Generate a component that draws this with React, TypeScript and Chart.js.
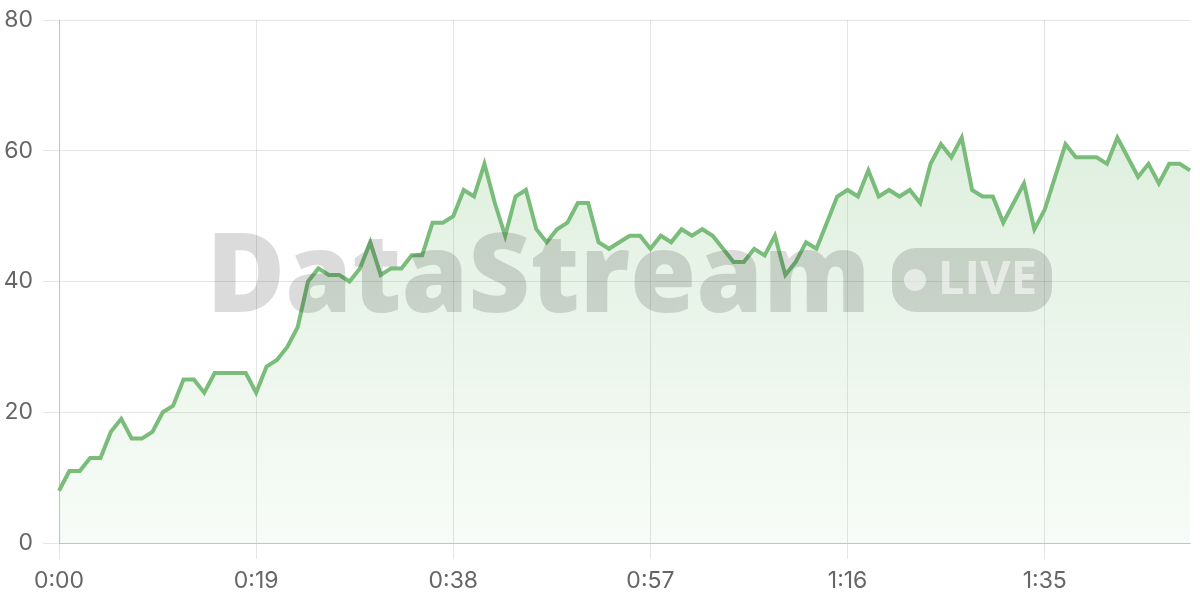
import React, { useEffect, useRef } from 'react';
import { Chart, registerables } from 'chart.js';

Chart.register(...registerables);

// Elapsed seconds 0..109, one sample per second
const SAMPLE_COUNT = 110;
const TIME_LABELS: string[] = Array.from({ length: SAMPLE_COUNT }, (_, i) =>
  `${Math.floor(i / 60)}:${String(i % 60).padStart(2, '0')}`
);

const VALUES: number[] = [
  8, 11, 11, 13, 13, 17, 19, 16, 16, 17,
  20, 21, 25, 25, 23, 26, 26, 26, 26, 23,
  27, 28, 30, 33, 40, 42, 41, 41, 40, 42,
  46, 41, 42, 42, 44, 44, 49, 49, 50, 54,
  53, 58, 52, 47, 53, 54, 48, 46, 48, 49,
  52, 52, 46, 45, 46, 47, 47, 45, 47, 46,
  48, 47, 48, 47, 45, 43, 43, 45, 44, 47,
  41, 43, 46, 45, 49, 53, 54, 53, 57, 53,
  54, 53, 54, 52, 58, 61, 59, 62, 54, 53,
  53, 49, 52, 55, 48, 51, 56, 61, 59, 59,
  59, 58, 62, 59, 56, 58, 55, 58, 58, 57,
];

const X_TICK_STEP = 19;
const Y_MIN = 0;
const Y_MAX = 80;
const Y_STEP = 20;

const WATERMARK_TEXT = 'DataStream';
const BADGE_TEXT = 'LIVE';

const LINE_COLOR = '#7abd7b';
const TICK_FONT = { family: 'Inter, sans-serif', size: 23 };

const watermarkPlugin = {
  id: 'watermark',
  afterDatasetsDraw(chart: any) {
    const { ctx, chartArea } = chart;
    const cx = (chartArea.left + chartArea.right) / 2;
    const cy = (chartArea.top + chartArea.bottom) / 2;
    ctx.save();
    ctx.font = "800 110px 'Open Sans', sans-serif";
    const textLeft = cx - 418;
    const textRight = cx + 246;
    const w1 = ctx.measureText(WATERMARK_TEXT).width;
    const sx = (textRight - textLeft) / w1;
    ctx.fillStyle = 'rgba(0,0,0,0.14)';
    ctx.textBaseline = 'alphabetic';
    ctx.textAlign = 'left';
    ctx.save();
    ctx.translate(textLeft, cy + 30);
    ctx.scale(sx, 1);
    ctx.fillText(WATERMARK_TEXT, 0, 0);
    ctx.restore();
    // pill
    const pillW = 160;
    const pillH = 64;
    const px = cx + 267.5;
    const py = cy - 1.5 - pillH / 2;
    ctx.beginPath();
    ctx.roundRect(px, py, pillW, pillH, 24);
    ctx.fill();
    ctx.fillStyle = 'rgba(255,255,255,0.55)';
    ctx.beginPath();
    ctx.arc(px + 23, py + pillH / 2, 11, 0, Math.PI * 2);
    ctx.fill();
    ctx.font = "bold 47px 'Open Sans', sans-serif";
    ctx.textBaseline = 'middle';
    ctx.fillText(BADGE_TEXT, px + 46, py + pillH / 2 + 1);
    ctx.restore();
  },
};

export default function App() {
  const canvasRef = useRef<HTMLCanvasElement | null>(null);

  useEffect(() => {
    document.body.style.margin = '0';
    const canvas = canvasRef.current;
    if (!canvas) return;
    const chart = new Chart(canvas, {
      type: 'line',
      data: {
        labels: TIME_LABELS,
        datasets: [
          {
            data: VALUES,
            borderColor: LINE_COLOR,
            borderWidth: 4,
            pointRadius: 0,
            pointHoverRadius: 0,
            tension: 0,
            fill: 'origin',
            backgroundColor: (c: any) => {
              const { chart: ch } = c;
              const area = ch.chartArea;
              if (!area) return 'rgba(110,185,110,0.15)';
              const g = ch.ctx.createLinearGradient(0, area.top, 0, area.bottom);
              g.addColorStop(0, 'rgba(110,185,110,0.27)');
              g.addColorStop(1, 'rgba(110,185,110,0.05)');
              return g;
            },
          },
        ],
      },
      options: {
        responsive: false,
        animation: false,
        devicePixelRatio: 1,
        layout: { padding: { top: 0, right: 10, left: 0, bottom: 0 } },
        plugins: {
          legend: { display: false },
          tooltip: { enabled: false },
        },
        scales: {
          x: {
            type: 'category',
            grid: { color: 'rgba(0,0,0,0.1)', tickLength: 16 },
            border: { color: 'rgba(0,0,0,0.15)' },
            ticks: {
              autoSkip: false,
              maxRotation: 0,
              minRotation: 0,
              padding: 8,
              color: '#666',
              font: TICK_FONT,
              callback: (_v: any, index: number) =>
                index % X_TICK_STEP === 0 ? TIME_LABELS[index] : null,
            },
            afterFit: (scale: any) => {
              scale.height = 57;
            },
          },
          y: {
            min: Y_MIN,
            max: Y_MAX,
            grid: { color: 'rgba(0,0,0,0.1)', tickLength: 16 },
            border: { color: 'rgba(0,0,0,0.15)' },
            ticks: {
              stepSize: Y_STEP,
              padding: 10,
              color: '#666',
              font: { ...TICK_FONT, lineHeight: 20 / 23 },
            },
            afterFit: (scale: any) => {
              scale.width = 59;
            },
          },
        },
      },
      plugins: [watermarkPlugin],
    });
    return () => chart.destroy();
  }, []);

  return (
    <div style={{ width: 1200, height: 600 }}>
      <canvas ref={canvasRef} width={1200} height={600} style={{ display: 'block' }} />
    </div>
  );
}
